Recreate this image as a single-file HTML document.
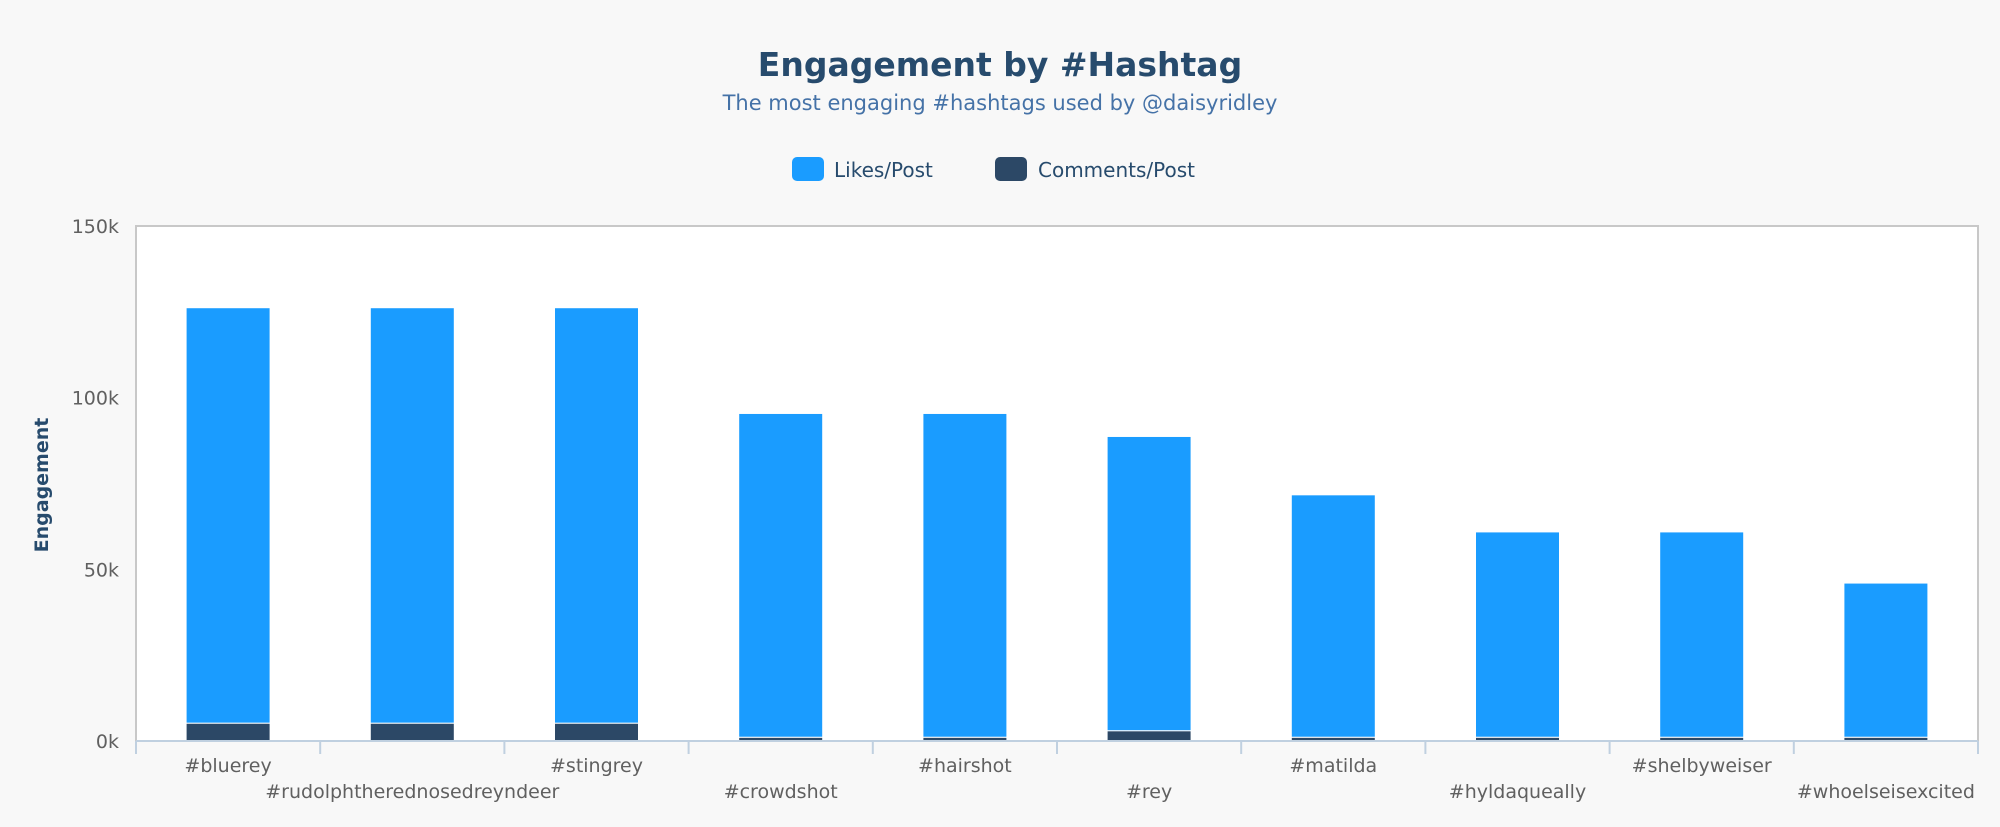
<!DOCTYPE html>
<html><head><meta charset="utf-8"><style>
html,body{margin:0;padding:0;background:#f8f8f8;}
svg{display:block;font-family:"DejaVu Sans","Liberation Sans",sans-serif;}
</style></head><body>
<svg id="chart" width="2000" height="827" viewBox="0 0 2000 827" xmlns="http://www.w3.org/2000/svg">
<rect x="0" y="0" width="2000" height="827" fill="#f8f8f8"/>
<text x="1000" y="76" text-anchor="middle" font-size="33" font-weight="bold" fill="#274b6d">Engagement by #Hashtag</text>
<text x="1000" y="110" text-anchor="middle" font-size="21" fill="#4572a7">The most engaging #hashtags used by @daisyridley</text>
<g>
<g>
<rect x="792" y="157" width="32" height="24" rx="5" fill="#1a9cff"/>
<text x="834" y="177" font-size="20" fill="#274b6d">Likes/Post</text>
</g>
<g>
<rect x="995" y="157" width="32" height="24" rx="5" fill="#2c4866"/>
<text x="1038" y="177" font-size="20" fill="#274b6d">Comments/Post</text>
</g>
</g>
<rect x="136" y="226" width="1842" height="515" fill="#ffffff" stroke="#c8c8c8" stroke-width="2"/>
<g id="yaxis"></g>
<g id="bars"></g>
<g id="xaxis"></g>
<text transform="translate(48,485) rotate(-90)" text-anchor="middle" font-size="19" font-weight="bold" fill="#274b6d">Engagement</text>
</svg>
<script>
const categories = ["#bluerey","#rudolphtherednosedreyndeer","#stingrey","#crowdshot","#hairshot","#rey","#matilda","#hyldaqueally","#shelbyweiser","#whoelseisexcited"];
const likes = [121, 121, 121, 94.3, 94.3, 85.7, 70.6, 59.8, 59.8, 44.9];
const comments = [5.2, 5.2, 5.2, 1.1, 1.1, 3.0, 1.1, 1.1, 1.1, 1.1];
const yTicks = [0, 50, 100, 150];
const yTickLabels = ["0k","50k","100k","150k"];

const NS = "http://www.w3.org/2000/svg";
const PL = 136, PR = 1978, PT = 226, PB = 741, YMAX = 150;
const bandW = (PR - PL) / categories.length;
const barW = 84;
function y(v){ return PB - (v / YMAX) * (PB - PT); }
function xc(i){ return PL + bandW * (i + 0.5); }
function mk(tag, attrs, parent){
  const e = document.createElementNS(NS, tag);
  for (const k in attrs) e.setAttribute(k, attrs[k]);
  parent.appendChild(e);
  return e;
}
const yg = document.getElementById('yaxis');
yTicks.forEach((t, i) => {
  const tx = mk('text', {x: 119, y: y(t) + 7, 'text-anchor': 'end', 'font-size': 19, fill: '#606060'}, yg);
  tx.textContent = yTickLabels[i];
  
  
});
const bg = document.getElementById('bars');
categories.forEach((c, i) => {
  const x0 = xc(i) - barW / 2;
  const cTop = y(comments[i]);
  const r1 = mk('rect', {x: x0, y: cTop, width: barW, height: PB - cTop, fill: '#2c4866', stroke: '#ffffff', 'stroke-width': 1}, bg);
  
  
  const lTop = y(comments[i] + likes[i]);
  const r2 = mk('rect', {x: x0, y: lTop, width: barW, height: cTop - lTop, fill: '#1a9cff', stroke: '#ffffff', 'stroke-width': 1}, bg);
  
  
});
const xg = document.getElementById('xaxis');
const base = mk('line', {x1: PL, y1: PB, x2: PR, y2: PB, stroke: '#c0d0e0', 'stroke-width': 2}, xg);


for (let i = 0; i <= categories.length; i++) {
  const tx = PL + bandW * i;
  const tk = mk('line', {x1: tx, y1: PB, x2: tx, y2: PB + 13, stroke: '#c0d0e0', 'stroke-width': 2}, xg);
  
  
}
categories.forEach((c, i) => {
  const ly = (i % 2 === 0) ? 772 : 798;
  const t = mk('text', {x: xc(i), y: ly, 'text-anchor': 'middle', 'font-size': 19, fill: '#606060'}, xg);
  t.textContent = c;
  
  
});
</script>
</body></html>
